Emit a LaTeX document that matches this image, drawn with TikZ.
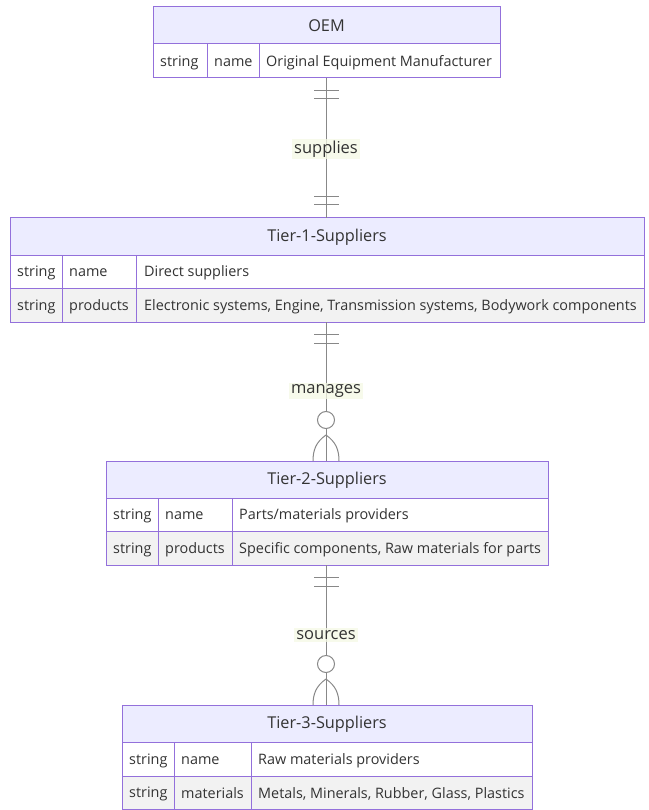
\documentclass[tikz,border=0pt]{standalone}
\usepackage{fontspec}
\setmainfont{Open Sans}
\definecolor{hdrfill}{HTML}{ECECFF}
\definecolor{bord}{HTML}{9370DB}
\definecolor{evenrow}{HTML}{F2F2F2}
\definecolor{txt}{HTML}{333333}
\definecolor{edgecol}{HTML}{888888}
\definecolor{lblbg}{HTML}{F4F8E4}
\tikzset{
  entity/.style={draw=bord, line width=1pt, inner sep=0pt, rectangle},
  grid/.style={draw=bord, line width=1pt},
  celltext/.style={anchor=west, inner sep=0pt, yshift=-1.5pt, font=\fontsize{14.4}{17}\selectfont, text=txt},
  titletext/.style={inner sep=0pt, yshift=-0.5pt, font=\fontsize{16.3}{19}\selectfont, text=txt},
  rel/.style={draw=edgecol, line width=1pt},
  lbl/.style={fill=lblbg, fill opacity=0.75, text opacity=1, inner sep=2pt, font=\fontsize{16.5}{19}\selectfont, text=txt}
}
\begin{document}
\begin{tikzpicture}[x=1pt,y=-1pt]
\useasboundingbox (0,0) rectangle (648,810);
% ---------- OEM ----------
\fill[hdrfill] (153,7) rectangle (500,44);
\fill[white] (153,44) rectangle (500,78);
\draw[grid] (153,44) -- (500,44) (207,44) -- (207,78) (259,44) -- (259,78);
\node[entity, minimum width=347pt, minimum height=71pt] (oem) at (326.5,42.5) {};
\node[titletext] (oemt) at (326.5,25.5) {OEM};
\node[celltext] (oem11) at (160,61) {string};
\node[celltext] (oem12) at (214,61) {name};
\node[celltext] (oem13) at (266,61) {Original Equipment Manufacturer};
% ---------- Tier-1 ----------
\fill[hdrfill] (10,218) rectangle (644,255);
\fill[white] (10,255) rectangle (644,288);
\fill[evenrow] (10,288) rectangle (644,322);
\draw[grid] (10,255) -- (644,255) (10,288) -- (644,288) (62,255) -- (62,322) (136,255) -- (136,322);
\node[entity, minimum width=634pt, minimum height=104pt] (t1) at (327,270) {};
\node[titletext] (t1t) at (327,236.5) {Tier-1-Suppliers};
\node[celltext] (t111) at (17,271.5) {string};
\node[celltext] (t112) at (69,271.5) {name};
\node[celltext] (t113) at (144,271.5) {Direct suppliers};
\node[celltext] (t121) at (17,305) {string};
\node[celltext] (t122) at (69,305) {products};
\node[celltext] (t123) at (144,305) {Electronic systems, Engine, Transmission systems, Bodywork components};
% ---------- Tier-2 ----------
\fill[hdrfill] (106,461) rectangle (548,498);
\fill[white] (106,498) rectangle (548,531);
\fill[evenrow] (106,531) rectangle (548,565);
\draw[grid] (106,498) -- (548,498) (106,531) -- (548,531) (158,498) -- (158,565) (232,498) -- (232,565);
\node[entity, minimum width=442pt, minimum height=104pt] (t2) at (327,513) {};
\node[titletext] (t2t) at (327,479.5) {Tier-2-Suppliers};
\node[celltext] (t211) at (113,514.5) {string};
\node[celltext] (t212) at (165,514.5) {name};
\node[celltext] (t213) at (239,514.5) {Parts/materials providers};
\node[celltext] (t221) at (113,548) {string};
\node[celltext] (t222) at (165,548) {products};
\node[celltext] (t223) at (239,548) {Specific components, Raw materials for parts};
% ---------- Tier-3 ----------
\fill[hdrfill] (122,705) rectangle (532,742);
\fill[white] (122,742) rectangle (532,776);
\fill[evenrow] (122,776) rectangle (532,809);
\draw[grid] (122,742) -- (532,742) (122,776) -- (532,776) (174,742) -- (174,809) (251,742) -- (251,809);
\node[entity, minimum width=410pt, minimum height=104pt] (t3) at (327,757) {};
\node[titletext] (t3t) at (327,723.5) {Tier-3-Suppliers};
\node[celltext] (t311) at (129,759) {string};
\node[celltext] (t312) at (181,759) {name};
\node[celltext] (t313) at (258,759) {Raw materials providers};
\node[celltext] (t321) at (129,792) {string};
\node[celltext] (t322) at (181,792) {materials};
\node[celltext] (t323) at (258,792) {Metals, Minerals, Rubber, Glass, Plastics};
% ---------- relationships ----------
% supplies: one-to-one (|| on both ends)
\coordinate (e1a) at (326,78);
\coordinate (e1b) at (326,218);
\draw[rel] (e1a) -- (e1b) node[lbl, midway, yshift=-1pt] (l1) {supplies};
\draw[rel] ([shift={(-12,13)}]e1a) -- ++(25,0) ([shift={(-12,21)}]e1a) -- ++(25,0);
\draw[rel] ([shift={(-12,-13)}]e1b) -- ++(25,0) ([shift={(-12,-21)}]e1b) -- ++(25,0);
% manages: one to zero-or-more
\coordinate (e2a) at (326,322);
\coordinate (e2b) at (326,461);
\draw[rel] (e2a) -- ([yshift=49.5pt]e2b);
\draw[rel] ([yshift=32.5pt]e2b) -- (e2b);
\node[lbl] (l2) at (326,391) {manages};
\draw[rel] ([shift={(-12,12)}]e2a) -- ++(25,0) ([shift={(-12,21)}]e2a) -- ++(25,0);
\draw[rel] ([shift={(0,-41)}]e2b) circle (8.5);
\draw[rel] ([shift={(0,-26)}]e2b) .. controls ([shift={(-10,-19)}]e2b) and ([shift={(-13,-11)}]e2b) .. ([shift={(-13,0)}]e2b);
\draw[rel] ([shift={(0,-26)}]e2b) .. controls ([shift={(10,-19)}]e2b) and ([shift={(13,-11)}]e2b) .. ([shift={(13,0)}]e2b);
% sources: one to zero-or-more
\coordinate (e3a) at (326,565);
\coordinate (e3b) at (326,705);
\draw[rel] (e3a) -- ([yshift=49.5pt]e3b);
\draw[rel] ([yshift=32.5pt]e3b) -- (e3b);
\node[lbl] (l3) at (326,635) {sources};
\draw[rel] ([shift={(-12,12)}]e3a) -- ++(25,0) ([shift={(-12,21)}]e3a) -- ++(25,0);
\draw[rel] ([shift={(0,-41)}]e3b) circle (8.5);
\draw[rel] ([shift={(0,-26)}]e3b) .. controls ([shift={(-10,-19)}]e3b) and ([shift={(-13,-11)}]e3b) .. ([shift={(-13,0)}]e3b);
\draw[rel] ([shift={(0,-26)}]e3b) .. controls ([shift={(10,-19)}]e3b) and ([shift={(13,-11)}]e3b) .. ([shift={(13,0)}]e3b);
\end{tikzpicture}
\end{document}
